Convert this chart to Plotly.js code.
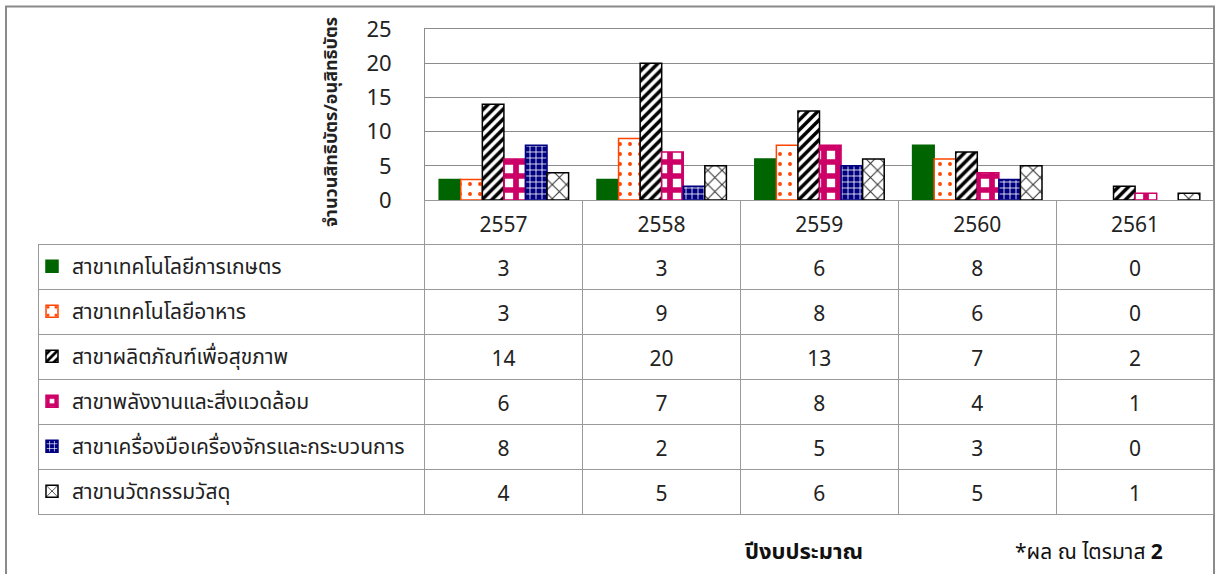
<!DOCTYPE html>
<html>
<head>
<meta charset="utf-8">
<script src="https://cdn.plot.ly/plotly-3.0.1.min.js"></script>
<style>html,body{margin:0;padding:0;background:#fff;}#chart{width:1216px;height:574px;}</style>
</head>
<body>
<div id="chart"></div>
<script>
const years = ['2557', '2558', '2559', '2560', '2561'];
const seriesNames = [
  'สาขาเทคโนโลยีการเกษตร',
  'สาขาเทคโนโลยีอาหาร',
  'สาขาผลิตภัณฑ์เพื่อสุขภาพ',
  'สาขาพลังงานและสิ่งแวดล้อม',
  'สาขาเครื่องมือเครื่องจักรและกระบวนการ',
  'สาขานวัตกรรมวัสดุ'
];
const agriculture = [3, 3, 6, 8, 0];
const food = [3, 9, 8, 6, 0];
const health = [14, 20, 13, 7, 2];
const energy = [6, 7, 8, 4, 1];
const machinery = [8, 2, 5, 3, 0];
const materials = [4, 5, 6, 5, 1];
const seriesValues = [agriculture, food, health, energy, machinery, materials];
const yTitle = 'จำนวนสิทธิบัตร/อนุสิทธิบัตร';
const xTitle = 'ปีงบประมาณ';
const note = '*ผล ณ ไตรมาส <b>2</b>';

const W = 1216, H = 574;
const px = p => p / W;
const py = p => 1 - p / H;
const FONT = 'Tahoma, "Noto Sans Thai", "Noto Sans", "DejaVu Sans", sans-serif';
const GRID = '#8c8c8c';
const TLINE = '#999999';

const styles = [
  {color: '#006400', line: '#006400', pattern: {shape: ''}},
  {color: '#ffffff', line: '#ff4500', pattern: {shape: '.', bgcolor: '#ffffff', fgcolor: '#ff4500', size: 10, solidity: 0.12}},
  {color: '#ffffff', line: '#000000', pattern: {shape: '/', bgcolor: '#ffffff', fgcolor: '#000000', size: 7, solidity: 0.5}},
  {color: '#ffffff', line: '#cc0066', pattern: {shape: '+', bgcolor: '#ffffff', fgcolor: '#cc0066', size: 14, solidity: 0.65}},
  {color: '#000080', line: '#000080', pattern: {shape: '+', bgcolor: '#000080', fgcolor: '#ffffff', size: 6, solidity: 0.25}},
  {color: '#ffffff', line: '#000000', pattern: {shape: 'x', bgcolor: '#ffffff', fgcolor: '#333333', size: 10, solidity: 0.2}}
];

const rowTop = 244, rowH = 45;
const traces = seriesNames.map((name, i) => ({
  type: 'bar',
  name: name,
  x: years,
  y: seriesValues[i],
  marker: {
    color: styles[i].color,
    line: {color: styles[i].line, width: seriesValues[i].map(v => v === 0 ? 0 : 1.5)},
    pattern: styles[i].pattern
  },
  legend: i === 0 ? 'legend' : 'legend' + (i + 1),
  hoverinfo: 'skip'
}));

const colW = [387, 158, 158, 158, 158, 158];
const emptyCols = [seriesNames.map(() => '')].concat(years.map(() => seriesNames.map(() => '')));
// grid table (lines only)
traces.push({
  type: 'table',
  domain: {x: [px(38), px(1214)], y: [py(516), py(200)]},
  columnwidth: colW,
  header: {
    values: [''].concat(years.map(() => '')),
    height: 44,
    fill: {color: ['rgba(0,0,0,0)', '#ffffff', '#ffffff', '#ffffff', '#ffffff', '#ffffff']},
    line: {color: ['rgba(0,0,0,0)', TLINE, TLINE, TLINE, TLINE, TLINE], width: 1}
  },
  cells: {
    values: emptyCols,
    height: 45,
    fill: {color: '#ffffff'},
    line: {color: TLINE, width: 1}
  }
});
// text table (values, shifted down to centre the text in each cell)
const tableValues = [seriesNames.map(() => '')].concat(
  years.map((y, j) => seriesValues.map(s => String(s[j])))
);
traces.push({
  type: 'table',
  domain: {x: [px(38), px(1214)], y: [py(524), py(208)]},
  columnwidth: colW,
  header: {
    values: [''].concat(years),
    height: 44,
    align: 'center',
    fill: {color: 'rgba(0,0,0,0)'},
    line: {color: 'rgba(0,0,0,0)', width: 0},
    font: {family: FONT, size: 21, color: '#222222'}
  },
  cells: {
    values: tableValues,
    height: 45,
    align: 'center',
    fill: {color: 'rgba(0,0,0,0)'},
    line: {color: 'rgba(0,0,0,0)', width: 0},
    font: {family: FONT, size: 21, color: '#222222'}
  }
});

const layout = {
  width: W, height: H,
  margin: {l: 0, r: 0, t: 0, b: 0},
  paper_bgcolor: '#ffffff',
  plot_bgcolor: '#ffffff',
  font: {family: FONT, color: '#222222'},
  barmode: 'group',
  bargap: 0.18,
  bargroupgap: 0,
  showlegend: true,
  xaxis: {
    domain: [px(425), px(1214)],
    type: 'category',
    showticklabels: false,
    showgrid: false,
    zeroline: false,
    showline: true, mirror: true, linecolor: GRID, linewidth: 1,
    ticks: ''
  },
  yaxis: {
    domain: [py(200), py(29)],
    range: [0, 25],
    dtick: 5,
    showgrid: true, gridcolor: GRID, gridwidth: 1,
    zeroline: false,
    showline: true, mirror: true, linecolor: GRID, linewidth: 1,
    ticks: '',
    ticklabelstandoff: 28,
    tickfont: {family: FONT, size: 22, color: '#222222'}
  },
  annotations: [
    {text: '<b>' + yTitle + '</b>', xref: 'paper', yref: 'paper', x: px(331), y: py(122),
     xanchor: 'center', yanchor: 'middle',
     textangle: -90, showarrow: false, font: {family: FONT, size: 18, color: '#222222'}},
    {text: '<b>' + xTitle + '</b>', xref: 'paper', yref: 'paper', x: px(803), y: py(552),
     xanchor: 'center', yanchor: 'middle',
     showarrow: false, font: {family: FONT, size: 22, color: '#111111'}},
    {text: note, xref: 'paper', yref: 'paper', x: px(1089), y: py(552),
     xanchor: 'center', yanchor: 'middle',
     showarrow: false, font: {family: FONT, size: 21, color: '#111111'}}
  ],
  shapes: [
    {type: 'rect', xref: 'paper', yref: 'paper', x0: px(6), x1: px(1214), y0: -0.05, y1: py(6.5),
     line: {color: '#8a8a8a', width: 2}, fillcolor: 'rgba(0,0,0,0)', layer: 'below'}
  ]
};
seriesNames.forEach((n, i) => {
  const key = i === 0 ? 'legend' : 'legend' + (i + 1);
  layout[key] = {
    x: px(32), xanchor: 'left',
    y: py(rowTop + rowH * i + rowH / 2), yanchor: 'middle',
    bgcolor: 'rgba(0,0,0,0)', borderwidth: 0,
    font: {family: FONT, size: 21, color: '#222222'},
    itemwidth: 30
  };
});

Plotly.newPlot('chart', traces, layout, {displayModeBar: false, staticPlot: true});
</script>
</body>
</html>
